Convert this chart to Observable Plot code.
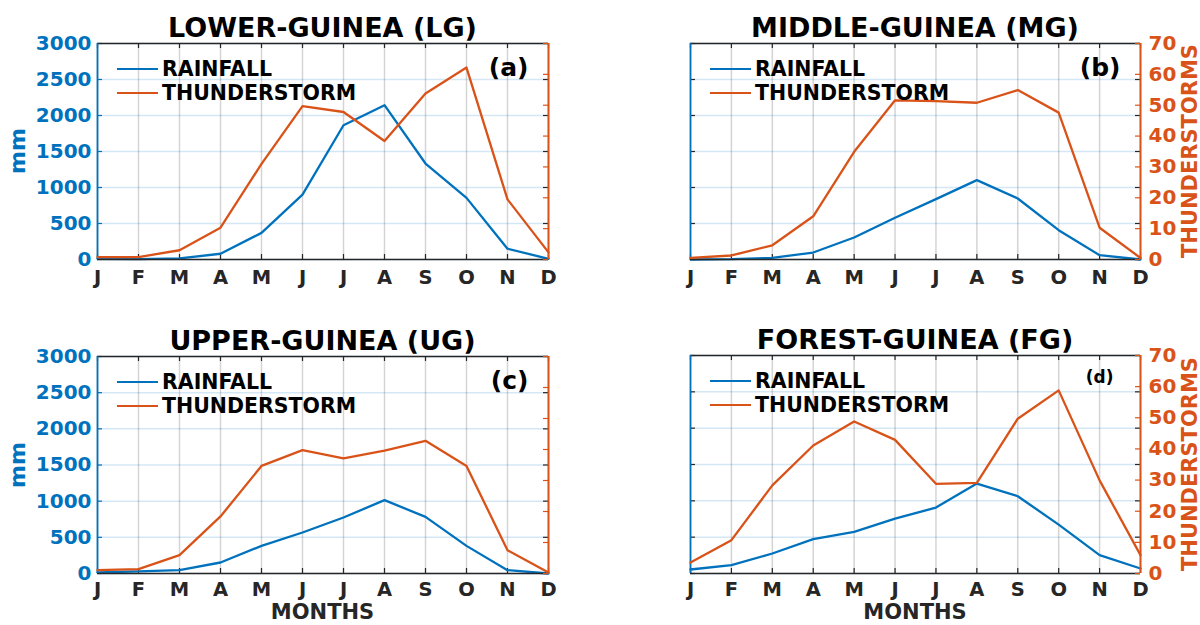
<!DOCTYPE html>
<html>
<head>
<meta charset="utf-8">
<script src="https://cdn.jsdelivr.net/npm/d3@7"></script>
<script src="https://cdn.jsdelivr.net/npm/@observablehq/plot@0.6"></script>
<style>
  html, body { margin: 0; padding: 0; background: #fff; }
  body { width: 1200px; height: 625px; position: relative; overflow: hidden; font-family: "DejaVu Sans", sans-serif; }
  .abs { position: absolute; }
  .lbl { position: absolute; white-space: nowrap; font-weight: bold; line-height: 1; transform: translate(-50%, -50%); }
  .leg { position: absolute; white-space: nowrap; font-weight: bold; line-height: 1; transform: translate(0, -50%); color: #000; }
  .sample { position: absolute; height: 2px; }
</style>
</head>
<body>
<script>
// ---------- data ----------
const months = ["J","F","M","A","M","J","J","A","S","O","N","D"];
const rainTicks = [0, 500, 1000, 1500, 2000, 2500, 3000];
const stormTicks = [0, 10, 20, 30, 40, 50, 60, 70];

const regionTitles = ["LOWER-GUINEA (LG)", "MIDDLE-GUINEA (MG)", "UPPER-GUINEA (UG)", "FOREST-GUINEA (FG)"];
const panelTags = ["(a)", "(b)", "(c)", "(d)"];

const rainLG  = [10, 5, 15, 80, 370, 900, 1865, 2143, 1333, 856, 150, 10];
const stormLG = [0.8, 0.8, 3, 10.3, 31, 49.7, 47.8, 38.4, 53.8, 62.2, 19.5, 2.3];
const rainMG  = [0, 5, 23, 97, 305, 579, 838, 1102, 847, 407, 60, 0];
const stormMG = [0.5, 1.3, 4.6, 14, 34.9, 51.6, 51.3, 50.8, 54.9, 47.6, 10.3, 0.5];
const rainUG  = [14, 28, 46, 152, 382, 567, 774, 1014, 783, 382, 46, 0];
const stormUG = [1.1, 1.4, 5.9, 18.4, 34.7, 39.8, 37.1, 39.6, 42.8, 34.7, 7.5, 0.3];
const rainFG  = [55, 115, 275, 472, 573, 756, 907, 1237, 1063, 673, 252, 69];
const stormFG = [3.5, 10.7, 28.3, 41.1, 48.8, 42.9, 28.8, 29.1, 49.7, 58.8, 29.9, 5.9];

const rainSeries = [rainLG, rainMG, rainUG, rainFG];
const stormSeries = [stormLG, stormMG, stormUG, stormFG];

// ---------- styling ----------
const BLUE = "#0072BD";
const ORANGE = "#D95319";
const DARK = "#262626";
const idx = months.map((m, i) => i + 1);

function html(cls, text, css) {
  const d = document.createElement("div");
  d.className = cls;
  d.textContent = text;
  Object.assign(d.style, css);
  document.body.appendChild(d);
  return d;
}

const layouts = [
  {left: 0,   top: 0,   h: 300, mL: 97, mR: 52, mT: 43, mB: 41, leftLabels: true,  rightLabels: false, months: false, tagSize: 25, pad: 11},
  {left: 600, top: 0,   h: 300, mL: 90, mR: 60, mT: 43, mB: 41, leftLabels: false, rightLabels: true,  months: false, tagSize: 25, pad: 11},
  {left: 0,   top: 310, h: 315, mL: 97, mR: 52, mT: 46, mB: 52, leftLabels: true,  rightLabels: false, months: true,  tagSize: 25, pad: 9},
  {left: 600, top: 310, h: 315, mL: 90, mR: 60, mT: 45, mB: 52, leftLabels: false, rightLabels: true,  months: true,  tagSize: 17, pad: 9}
];

layouts.forEach((L, p) => {
  const W = 600;
  const iw = W - L.mL - L.mR;
  const ih = L.h - L.mT - L.mB;
  const rain = rainSeries[p];
  const storm = stormSeries[p];
  const common = {
    width: W, height: L.h,
    marginLeft: L.mL, marginRight: L.mR, marginTop: L.mT, marginBottom: L.mB,
    style: {background: "transparent", fontFamily: "DejaVu Sans", overflow: "visible"},
    x: {domain: [1, 12], axis: null}
  };

  const bottom = Plot.plot({
    ...common,
    y: {domain: [0, 3000], axis: null},
    marks: [
      Plot.gridX(idx, {stroke: DARK, strokeOpacity: 0.2, strokeWidth: 1.5}),
      Plot.gridY(rainTicks, {stroke: BLUE, strokeOpacity: 0.17, strokeWidth: 1.5}),
      Plot.tickX(idx, {x: d => d, stroke: DARK, strokeWidth: 1.2, insetTop: ih - 5}),
      Plot.tickX(idx, {x: d => d, stroke: DARK, strokeWidth: 1.2, insetBottom: ih - 5}),
      Plot.tickY(rainTicks, {y: d => d, stroke: L.leftLabels ? BLUE : DARK, strokeWidth: 1.2, insetRight: iw - 5}),
      Plot.tickY(rainTicks, {y: d => d, stroke: DARK, strokeWidth: 1.2, insetLeft: iw - 5}),
      Plot.line(idx, {x: d => d, y: (d, i) => rain[i], stroke: BLUE, strokeWidth: 2.3}),
      Plot.ruleY([3000], {stroke: DARK, strokeWidth: 1.5}),
      Plot.ruleY([0], {stroke: DARK, strokeWidth: 1.5}),
      Plot.ruleX([1], {stroke: BLUE, strokeWidth: 1.8}),
      Plot.axisX(idx, {anchor: "bottom", tickSize: 0, tickPadding: L.pad, tickFormat: d => months[d - 1],
        fontSize: 19.5, fontWeight: "bold", color: DARK, label: null}),
      L.leftLabels ? Plot.axisY(rainTicks, {anchor: "left", tickSize: 0, tickPadding: 6, tickFormat: d => String(d),
        fontSize: 20, fontWeight: "bold", color: BLUE, label: null}) : null
    ]
  });

  const topPlot = Plot.plot({
    ...common,
    y: {domain: [0, 70], axis: null},
    marks: [
      Plot.line(idx, {x: d => d, y: (d, i) => storm[i], stroke: ORANGE, strokeWidth: 2.3}),
      Plot.tickY(stormTicks, {y: d => d, stroke: ORANGE, strokeWidth: 1.2, insetLeft: iw - 5}),
      Plot.ruleX([12], {stroke: ORANGE, strokeWidth: 2}),
      L.rightLabels ? Plot.axisY(stormTicks, {anchor: "right", tickSize: 0, tickPadding: 8, tickFormat: d => String(d),
        fontSize: 20, fontWeight: "bold", color: ORANGE, label: null}) : null,
      Plot.text([panelTags[p]], {frameAnchor: "top-right", textAnchor: "end", lineAnchor: "middle",
        dx: p === 3 ? -27 : -20, dy: p === 3 ? 22 : 24, fontSize: L.tagSize, fontWeight: "bold", fill: "#000"})
    ]
  });

  [bottom, topPlot].forEach(svg => {
    svg.classList.add("abs");
    svg.style.left = L.left + "px";
    svg.style.top = L.top + "px";
    document.body.appendChild(svg);
  });

  const plotLeft = L.left + L.mL;
  const plotTop = L.top + L.mT;
  const cx = plotLeft + iw / 2;
  const cy = plotTop + ih / 2;

  // title
  html("lbl", regionTitles[p], {left: cx + "px", top: (plotTop - 16) + "px", fontSize: "27px", color: "#000"});

  // legend
  const legY1 = plotTop + 26, legY2 = plotTop + 50;
  [[legY1, BLUE, "RAINFALL"], [legY2, ORANGE, "THUNDERSTORM"]].forEach(([y, c, t]) => {
    const s = document.createElement("div");
    s.className = "sample";
    Object.assign(s.style, {left: (plotLeft + 20) + "px", top: (y - 1) + "px", width: "41px", background: c});
    document.body.appendChild(s);
    html("leg", t, {left: (plotLeft + 65) + "px", top: y + "px", fontSize: "20.5px"});
  });

  // axis labels
  if (L.leftLabels) html("lbl", "mm", {left: "18px", top: cy + "px", fontSize: "22px", color: BLUE, transform: "translate(-50%,-50%) rotate(-90deg)"});
  if (L.rightLabels) html("lbl", "THUNDERSTORMS", {left: "1190px", top: cy + "px", fontSize: "21px", color: ORANGE, transform: "translate(-50%,-50%) rotate(-90deg)"});
  if (L.months) html("lbl", "MONTHS", {left: cx + "px", top: "612px", fontSize: "21px", color: DARK});
});
</script>
</body>
</html>
